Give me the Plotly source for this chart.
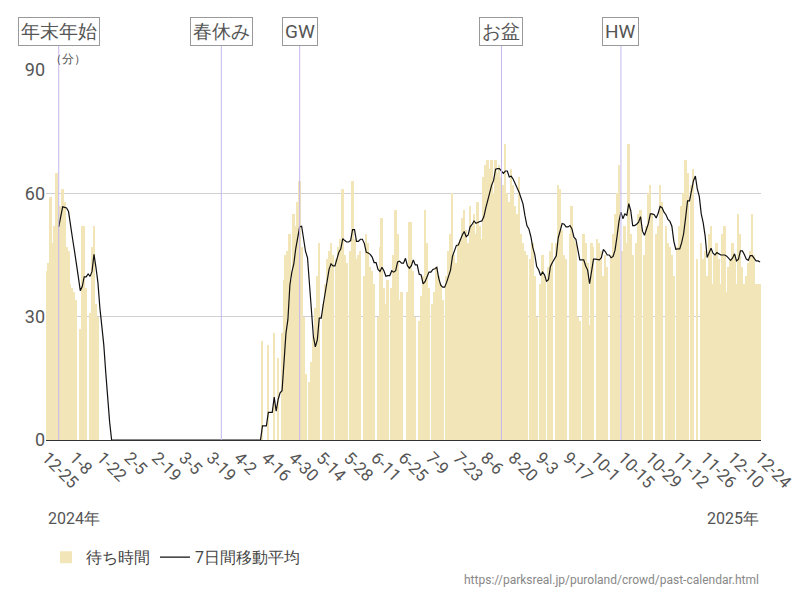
import numpy as np
import pandas as pd
import plotly.graph_objects as go

# 日別の待ち時間（分）、2024-12-25から1週間ずつ
start_date = "2024-12-25"
weeks = [
    [41, 43, 59, 48, 52, 65, 55],
    [57, 61, 58, 47, 46, 38, 37],
    [36, 34, 0, 27, 52, 52, 37],
    [0, 31, 47, 52, 33, 30, 0],
    [0, 0, 0, 0, 0, 0, 0],
    [0, 0, 0, 0, 0, 0, 0],
    [0, 0, 0, 0, 0, 0, 0],
    [0, 0, 0, 0, 0, 0, 0],
    [0, 0, 0, 0, 0, 0, 0],
    [0, 0, 0, 0, 0, 0, 0],
    [0, 0, 0, 0, 0, 0, 0],
    [0, 0, 0, 0, 0, 0, 0],
    [0, 0, 0, 0, 0, 0, 0],
    [0, 0, 0, 0, 0, 0, 0],
    [0, 0, 0, 0, 0, 0, 0],
    [0, 0, 0, 0, 0, 24, 0],
    [0, 23, 0, 0, 26, 0, 20],
    [0, 26, 39, 45, 46, 50, 39],
    [55, 52, 58, 63, 47, 30, 16],
    [0, 14, 19, 25, 32, 40, 48],
    [0, 33, 38, 44, 46, 48, 45],
    [0, 44, 47, 49, 61, 45, 43],
    [0, 46, 63, 49, 44, 45, 46],
    [0, 40, 50, 48, 42, 41, 38],
    [0, 30, 47, 54, 37, 33, 39],
    [0, 37, 45, 56, 50, 34, 36],
    [0, 0, 36, 53, 53, 41, 30],
    [0, 29, 35, 40, 56, 48, 37],
    [0, 33, 36, 42, 40, 38, 34],
    [0, 40, 46, 50, 60, 45, 43],
    [48, 49, 54, 56, 51, 48, 57],
    [52, 55, 50, 58, 52, 49, 64],
    [67, 68, 66, 68, 60, 68, 65],
    [67, 64, 62, 72, 60, 58, 66],
    [62, 57, 55, 64, 50, 48, 46],
    [45, 0, 44, 48, 40, 30, 0],
    [38, 45, 40, 0, 42, 46, 48],
    [0, 48, 62, 61, 51, 45, 44],
    [0, 50, 57, 49, 48, 30, 29],
    [0, 50, 48, 43, 28, 48, 47],
    [0, 49, 48, 46, 40, 45, 42],
    [0, 45, 50, 55, 60, 67, 0],
    [46, 52, 48, 72, 50, 45, 0],
    [48, 55, 56, 0, 45, 52, 60],
    [62, 55, 0, 50, 52, 62, 58],
    [0, 52, 48, 47, 45, 40, 0],
    [47, 52, 57, 60, 68, 65, 0],
    [62, 66, 0, 44, 0, 48, 44],
    [46, 40, 50, 52, 38, 45, 48],
    [44, 38, 50, 52, 36, 42, 44],
    [48, 45, 38, 55, 50, 42, 38],
    [40, 43, 46, 55, 45, 38, 38],
    [38],
]
# 長期休園（この期間の0は移動平均に含める）
closure_start = "2025-01-19"
full_open_date = "2025-04-23"

events = ["年末年始", "春休み", "GW", "お盆", "HW"]
event_dates = ["2024-12-31", "2025-03-24", "2025-05-03", "2025-08-14", "2025-10-14"]

y_ticks = [0, 30, 60, 90]

wait = [v for w in weeks for v in w]
dates = pd.date_range(start_date, periods=len(wait), freq="D")
s = pd.Series(wait, index=dates, dtype=float)
s_ma = s.copy()
open_season = (s_ma.index < closure_start) | (s_ma.index >= full_open_date)
s_ma[(s_ma == 0) & open_season] = np.nan
ma = s_ma.rolling(7, min_periods=1).mean()
ma.iloc[:6] = np.nan

fig = go.Figure()

fig.add_trace(go.Bar(
    x=dates, y=s, name="待ち時間",
    marker_color="#f2e5b8", marker_line_width=0,
))
fig.add_trace(go.Scatter(
    x=dates, y=ma, name="7日間移動平均", mode="lines",
    line=dict(color="#111111", width=1.2),
))

shapes = []
annotations = []
for name, d in zip(events, event_dates):
    shapes.append(dict(type="line", xref="x", yref="paper", x0=d, x1=d,
                       y0=0, y1=1.07, line=dict(color="#c5b6ee", width=1), layer="above"))
    annotations.append(dict(x=d, y=1.103, xref="x", yref="paper", text=name,
                            yanchor="middle", showarrow=False,
                            font=dict(size=19, color="#555555"),
                            bordercolor="#999999", borderwidth=1, borderpad=2,
                            bgcolor="white"))

annotations += [
    dict(x=0.003, y=1.005, xref="paper", yref="paper", text="（分）", showarrow=False,
         xanchor="left", yanchor="bottom", font=dict(size=12, color="#555555")),
    dict(x=0, y=-0.213, xref="paper", yref="paper", text="2024年", showarrow=False,
         xanchor="left", yanchor="middle", font=dict(size=16, color="#555555")),
    dict(x=1, y=-0.213, xref="paper", yref="paper", text="2025年", showarrow=False,
         xanchor="right", yanchor="middle", font=dict(size=16, color="#555555")),
    dict(x=1, y=-0.378, xref="paper", yref="paper",
         text="https://parksreal.jp/puroland/crowd/past-calendar.html", showarrow=False,
         xanchor="right", yanchor="middle", font=dict(size=12, color="#888888")),
]

fig.update_xaxes(
    type="date", automargin=False,
    range=[dates[0] - pd.Timedelta(hours=12), dates[-1] + pd.Timedelta(hours=12)],
    tick0=start_date, dtick=14 * 86400000, tickformat="%-m-%-d",
    tickangle=45, tickfont=dict(size=17, color="#555555"),
    showgrid=False, showline=True, linecolor="#333333", linewidth=1,
    ticks="",
)
fig.update_yaxes(
    range=[0, 90], tickvals=y_ticks, tickfont=dict(size=18, color="#555555"),
    showgrid=True, gridcolor="#d0d0d0", zeroline=False, automargin=False,
)

# ページ本体の8pxの余白を見込んで寄せる
fig.update_layout(
    width=800, height=600,
    font_family="Roboto",
    plot_bgcolor="white", paper_bgcolor="white",
    bargap=0,
    margin=dict(l=38, r=47, t=62, b=168),
    shapes=shapes, annotations=annotations,
    legend=dict(orientation="h", x=0.0, y=-0.317, xanchor="left", yanchor="middle",
                font=dict(size=16, color="#444444")),
)

fig.write_html("out.html")
